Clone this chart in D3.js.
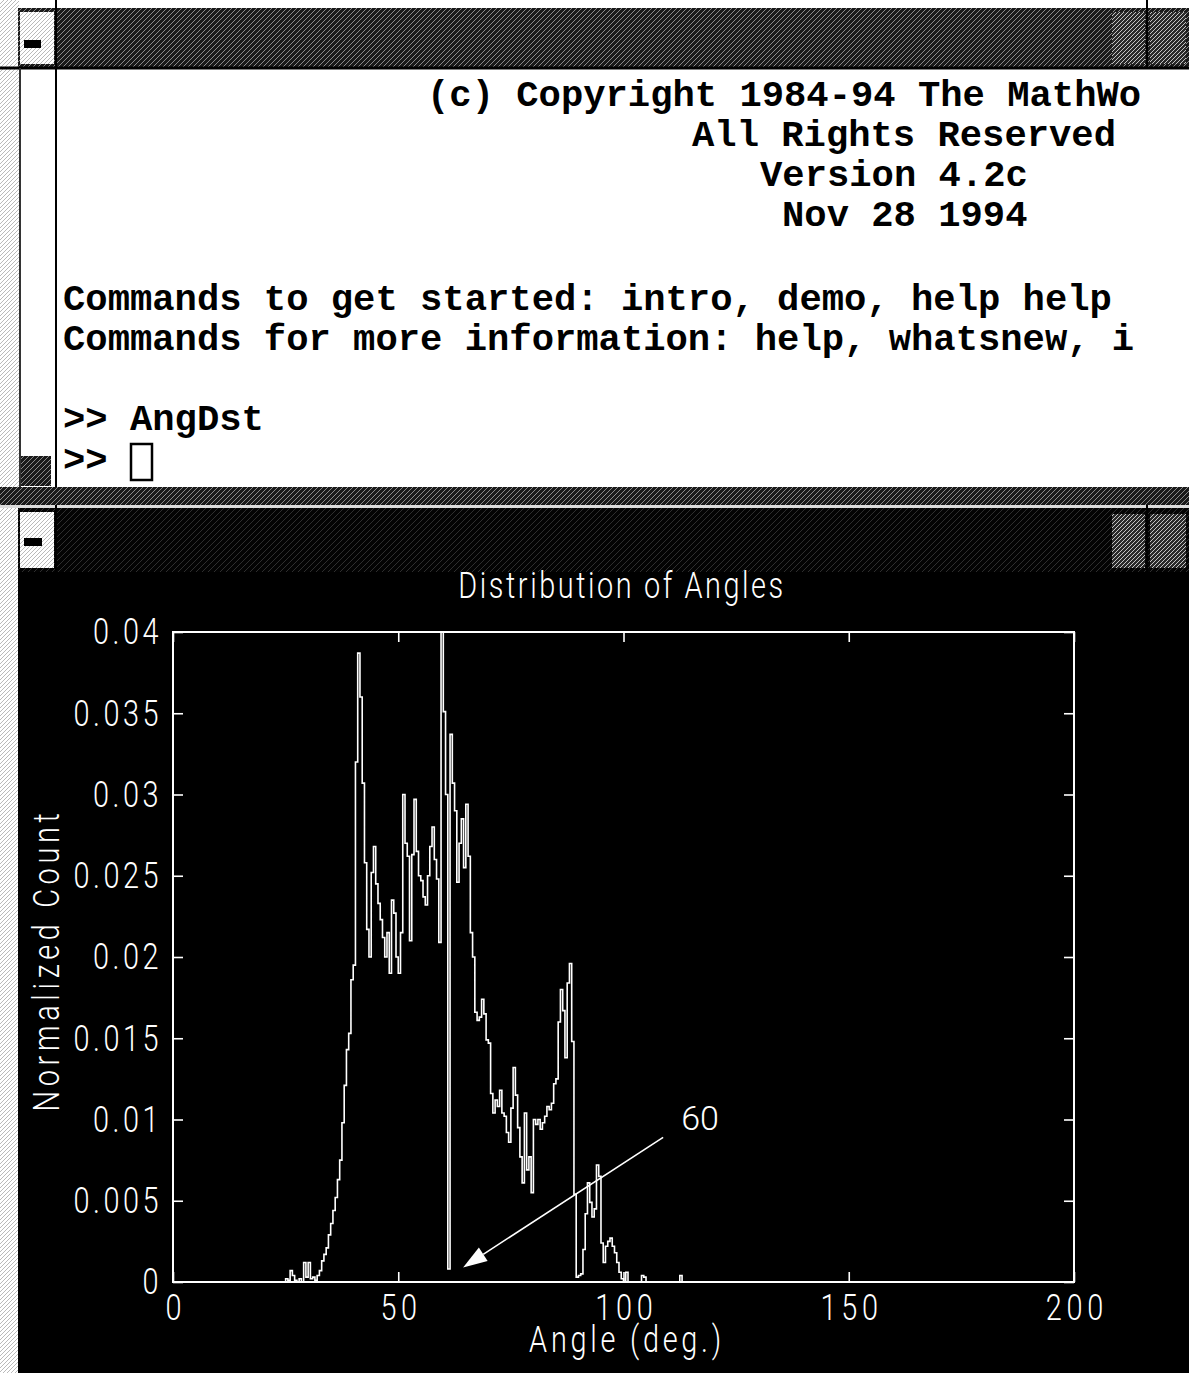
<!DOCTYPE html>
<html>
<head>
<meta charset="utf-8">
<title>AngDst</title>
<script src="https://cdn.jsdelivr.net/npm/d3@7"></script>
<style>
  html, body { margin: 0; padding: 0; background: #fff; overflow: hidden; }
  svg { display: block; }
</style>
</head>
<body>
<svg id="screen" width="1189" height="1373"></svg>
<script>
// ---------------- data ----------------
// Command window text
const bannerLines = [
  "(c) Copyright 1984-94 The MathWo",
  "All Rights Reserved",
  "Version 4.2c",
  "Nov 28 1994"
];
const helpLines = [
  "Commands to get started: intro, demo, help help",
  "Commands for more information: help, whatsnew, i"
];
const sessionLines = [">> AngDst", ">> "];

// Histogram of angles: first bin edge, bin width (deg) and normalized counts
const firstEdge = 24;
const binWidth = 0.5;
const normCount = [
  0, 0, 0.0002, 0.0001, 0.0007, 0.0004, 0.0001, 0, 0.0002, 0,                       // 24 - 28.5
  0.0012, 0.0003, 0.0012, 0.0002, 0.0003, 0.0001, 0.0004, 0.0007, 0.0013, 0.0017,   // 29 - 33.5
  0.0021, 0.0029, 0.0036, 0.0044, 0.0052, 0.0063, 0.0075, 0.0098, 0.0121, 0.0143,   // 34 - 38.5
  0.0153, 0.0186, 0.0195, 0.0320, 0.0387, 0.0360, 0.0307, 0.0258, 0.0217, 0.0200,   // 39 - 43.5
  0.0252, 0.0268, 0.0245, 0.0233, 0.0223, 0.0212, 0.0200, 0.0215, 0.0190, 0.0235,   // 44 - 48.5
  0.0227, 0.0200, 0.0190, 0.0215, 0.0300, 0.0270, 0.0262, 0.0210, 0.0263, 0.0297,   // 49 - 53.5
  0.0265, 0.0250, 0.0247, 0.0237, 0.0232, 0.0250, 0.0268, 0.0280, 0.0260, 0.0248,   // 54 - 58.5
  0.0209, 0.0415, 0.0351, 0.0300, 0.0008, 0.0337, 0.0307, 0.0290, 0.0246, 0.0270,   // 59 - 63.5
  0.0285, 0.0255, 0.0294, 0.0262, 0.0215, 0.0200, 0.0166, 0.0161, 0.0163, 0.0174,   // 64 - 68.5
  0.0165, 0.0149, 0.0147, 0.0116, 0.0104, 0.0112, 0.0108, 0.0118, 0.0104, 0.0102,   // 69 - 73.5
  0.0092, 0.0086, 0.0107, 0.0132, 0.0115, 0.0095, 0.0077, 0.0061, 0.0104, 0.0069,   // 74 - 78.5
  0.0077, 0.0055, 0.0100, 0.0097, 0.0100, 0.0094, 0.0098, 0.0102, 0.0108, 0.0106,   // 79 - 83.5
  0.0110, 0.0122, 0.0125, 0.0160, 0.0180, 0.0167, 0.0138, 0.0184, 0.0196, 0.0148,   // 84 - 88.5
  0.0054, 0.0003, 0.0004, 0.0005, 0.0020, 0.0042, 0.0061, 0.0049, 0.0040, 0.0045,   // 89 - 93.5
  0.0072, 0.0065, 0.0024, 0.0012, 0.0022, 0.0025, 0.0027, 0.0022, 0.0018, 0.0012,   // 94 - 98.5
  0.0006, 0.0002, 0, 0.0006, 0, 0, 0, 0, 0, 0,                                     // 99 - 103.5
  0.0004, 0.0003, 0, 0, 0, 0, 0, 0, 0, 0,                                          // 104 - 108.5
  0, 0, 0, 0, 0, 0, 0, 0.0004, 0, 0,                                               // 109 - 113.5
  0, 0                                                                             // 114 - 114.5
];

const xTicks = [0, 50, 100, 150, 200];
const yTicks = [0, 0.005, 0.01, 0.015, 0.02, 0.025, 0.03, 0.035, 0.04];
const yTickLabels = ["0", "0.005", "0.01", "0.015", "0.02", "0.025", "0.03", "0.035", "0.04"];

const plotTitle = "Distribution of Angles";
const xLabel = "Angle (deg.)";
const yLabel = "Normalized Count";
const noteText = "60";

// ---------------- drawing ----------------
const svg = d3.select("#screen");
const defs = svg.append("defs");

// dithered textures for the window frames
function hatch(id, bg, fg, size, width) {
  const p = defs.append("pattern").attr("id", id)
    .attr("patternUnits", "userSpaceOnUse").attr("width", size).attr("height", size);
  p.append("rect").attr("width", size).attr("height", size).attr("fill", bg);
  p.append("path").attr("d", `M0,${size} L${size},0 M${-size / 2},${size / 2} L${size / 2},${-size / 2} M${size / 2},${size * 1.5} L${size * 1.5},${size / 2}`)
    .attr("stroke", fg).attr("stroke-width", width);
}
hatch("titleMid", "#1a1a1a", "#8a8a8a", 5, 1.0);
hatch("titleDark", "#030303", "#333333", 6, 0.9);
hatch("stipple", "#ffffff", "#9c9c9c", 4, 0.7);
hatch("buttonTex", "#2a2a2a", "#c4c4c4", 4, 1.0);

svg.append("rect").attr("width", 1189).attr("height", 1373).attr("fill", "#fff");

// ----- command window -----
svg.append("rect").attr("x", 0).attr("y", 0).attr("width", 19).attr("height", 1373).attr("fill", "url(#stipple)");
svg.append("rect").attr("x", 18).attr("y", 8).attr("width", 1171).attr("height", 60).attr("fill", "url(#titleMid)");
svg.append("rect").attr("x", 20).attr("y", 12).attr("width", 34).attr("height", 52).attr("fill", "url(#stipple)");
svg.append("rect").attr("x", 24).attr("y", 40).attr("width", 17).attr("height", 8).attr("fill", "#000");
svg.append("rect").attr("x", 1112).attr("y", 12).attr("width", 33).attr("height", 52).attr("fill", "url(#buttonTex)");
svg.append("rect").attr("x", 1150).attr("y", 12).attr("width", 36).attr("height", 52).attr("fill", "url(#buttonTex)");
svg.append("line").attr("x1", 1147).attr("x2", 1147).attr("y1", 0).attr("y2", 68).attr("stroke", "#000").attr("stroke-width", 2);
svg.append("line").attr("x1", 0).attr("x2", 1189).attr("y1", 68).attr("y2", 68).attr("stroke", "#000").attr("stroke-width", 3);
svg.append("line").attr("x1", 56).attr("x2", 56).attr("y1", 0).attr("y2", 488).attr("stroke", "#000").attr("stroke-width", 2);
svg.append("line").attr("x1", 20).attr("x2", 20).attr("y1", 68).attr("y2", 488).attr("stroke", "#333").attr("stroke-width", 2);
svg.append("rect").attr("x", 21).attr("y", 456).attr("width", 30).attr("height", 30).attr("fill", "url(#titleMid)");

const mono = "'Liberation Mono', 'DejaVu Sans Mono', monospace";
const consoleText = svg.append("g")
  .attr("font-family", mono).attr("font-weight", "bold")
  .attr("font-size", 37.2).attr("fill", "#000");

const bannerX = [427, 692, 760, 782];
const bannerY = [106, 146, 186, 226];
bannerLines.forEach((t, i) => {
  consoleText.append("text").attr("x", bannerX[i]).attr("y", bannerY[i])
    .attr("xml:space", "preserve").text(t);
});
helpLines.forEach((t, i) => {
  consoleText.append("text").attr("x", 63).attr("y", 310 + i * 40)
    .attr("xml:space", "preserve").text(t);
});
sessionLines.forEach((t, i) => {
  consoleText.append("text").attr("x", 63).attr("y", 430 + i * 41)
    .attr("xml:space", "preserve").text(t);
});
// text cursor
svg.append("rect").attr("x", 131).attr("y", 444).attr("width", 21).attr("height", 36)
  .attr("fill", "#fff").attr("stroke", "#000").attr("stroke-width", 2.5);

// ----- figure window -----
svg.append("rect").attr("x", 0).attr("y", 487).attr("width", 1189).attr("height", 18).attr("fill", "url(#titleMid)");
svg.append("rect").attr("x", 0).attr("y", 505).attr("width", 1189).attr("height", 3).attr("fill", "#ddd");
svg.append("rect").attr("x", 18).attr("y", 508).attr("width", 1171).attr("height", 64).attr("fill", "url(#titleDark)");
svg.append("rect").attr("x", 20).attr("y", 512).attr("width", 34).attr("height", 56).attr("fill", "url(#stipple)");
svg.append("rect").attr("x", 24).attr("y", 538).attr("width", 18).attr("height", 8).attr("fill", "#000");
svg.append("rect").attr("x", 1112).attr("y", 514).attr("width", 33).attr("height", 54).attr("fill", "url(#buttonTex)");
svg.append("rect").attr("x", 1150).attr("y", 514).attr("width", 36).attr("height", 54).attr("fill", "url(#buttonTex)");
svg.append("line").attr("x1", 1147).attr("x2", 1147).attr("y1", 505).attr("y2", 572).attr("stroke", "#000").attr("stroke-width", 2);
svg.append("line").attr("x1", 56).attr("x2", 56).attr("y1", 505).attr("y2", 572).attr("stroke", "#000").attr("stroke-width", 2);
svg.append("rect").attr("x", 18).attr("y", 572).attr("width", 1171).attr("height", 801).attr("fill", "#000");

// ----- axes -----
const plot = { left: 173, right: 1074, top: 632, bottom: 1282 };
const x = d3.scaleLinear().domain([0, 200]).range([plot.left, plot.right]);
const y = d3.scaleLinear().domain([0, 0.04]).range([plot.bottom, plot.top]);

const sans = "Roboto, 'Open Sans', 'DejaVu Sans', sans-serif";
const squeeze = 0.78;

svg.append("clipPath").attr("id", "plotClip").append("rect")
  .attr("x", plot.left).attr("y", plot.top)
  .attr("width", plot.right - plot.left).attr("height", plot.bottom - plot.top);

// stairs trace of the histogram
const stairPts = normCount.map((v, i) => [firstEdge + i * binWidth, v]);
stairPts.push([firstEdge + normCount.length * binWidth, normCount[normCount.length - 1]]);
const stairs = d3.line().x(d => x(d[0])).y(d => y(d[1])).curve(d3.curveStepAfter);
svg.append("path")
  .attr("clip-path", "url(#plotClip)")
  .attr("d", stairs(stairPts))
  .attr("fill", "none").attr("stroke", "#fff").attr("stroke-width", 1.6);

function styleAxis(g, spacing) {
  g.select(".domain").remove();
  g.selectAll("line").attr("stroke", "#fff").attr("stroke-width", 1.6);
  g.selectAll("text").attr("fill", "#fff").attr("font-family", sans)
    .attr("font-weight", 300).attr("font-size", 37)
    .attr("letter-spacing", spacing || 0);
}

const gx = svg.append("g").attr("transform", `translate(0,${plot.bottom})`)
  .call(d3.axisBottom(x).tickValues(xTicks).tickFormat(d3.format("d"))
    .tickSizeInner(-10).tickSizeOuter(0).tickPadding(12));
styleAxis(gx, 6);
gx.selectAll("text").attr("x", 3).attr("transform", `scale(${squeeze},1)`);

const gxTop = svg.append("g").attr("transform", `translate(0,${plot.top})`)
  .call(d3.axisTop(x).tickValues(xTicks).tickFormat("").tickSizeInner(-10).tickSizeOuter(0));
styleAxis(gxTop);

const gy = svg.append("g").attr("transform", `translate(${plot.left},0)`)
  .call(d3.axisLeft(y).tickValues(yTicks).tickFormat((d, i) => yTickLabels[i])
    .tickSizeInner(-10).tickSizeOuter(0).tickPadding(15));
styleAxis(gy, 4.5);
gy.selectAll("text").attr("x", -11 / squeeze).attr("transform", `scale(${squeeze},1)`);

const gyRight = svg.append("g").attr("transform", `translate(${plot.right},0)`)
  .call(d3.axisRight(y).tickValues(yTicks).tickFormat("").tickSizeInner(-10).tickSizeOuter(0));
styleAxis(gyRight);

// axes box
svg.append("rect")
  .attr("x", plot.left).attr("y", plot.top)
  .attr("width", plot.right - plot.left).attr("height", plot.bottom - plot.top)
  .attr("fill", "none").attr("stroke", "#fff").attr("stroke-width", 2);

// ----- labels -----
function label(txt, px, py, rot, spacing) {
  svg.append("text")
    .attr("transform", `translate(${px},${py}) rotate(${rot}) scale(${squeeze},1)`)
    .attr("text-anchor", "middle")
    .attr("font-family", sans).attr("font-weight", 300).attr("font-size", 37)
    .attr("letter-spacing", spacing)
    .attr("fill", "#fff").text(txt);
}
label(plotTitle, 622, 598, 0, 3.3);
label(xLabel, 627, 1352, 0, 4.8);
label(yLabel, 59, 960, -90, 6);

// ----- annotation arrow pointing at the 60 degree dip -----
const noteFrom = [x(108.8), y(0.0089)];
const noteTo = [x(64.4), y(0.0009)];
const dx = noteTo[0] - noteFrom[0], dy = noteTo[1] - noteFrom[1];
const len = Math.hypot(dx, dy), ux = dx / len, uy = dy / len;
const headLen = 24, headHalf = 8;
const base = [noteTo[0] - ux * headLen, noteTo[1] - uy * headLen];
svg.append("line")
  .attr("x1", noteFrom[0]).attr("y1", noteFrom[1])
  .attr("x2", base[0]).attr("y2", base[1])
  .attr("stroke", "#fff").attr("stroke-width", 1.6);
svg.append("path")
  .attr("d", `M${noteTo[0]},${noteTo[1]} L${base[0] - uy * headHalf},${base[1] + ux * headHalf} L${base[0] + uy * headHalf},${base[1] - ux * headHalf} Z`)
  .attr("fill", "#fff");
svg.append("text")
  .attr("x", x(117)).attr("y", y(0.0101) + 12)
  .attr("text-anchor", "middle")
  .attr("font-family", sans).attr("font-weight", 300).attr("font-size", 34)
  .attr("fill", "#fff").text(noteText);
</script>
</body>
</html>
